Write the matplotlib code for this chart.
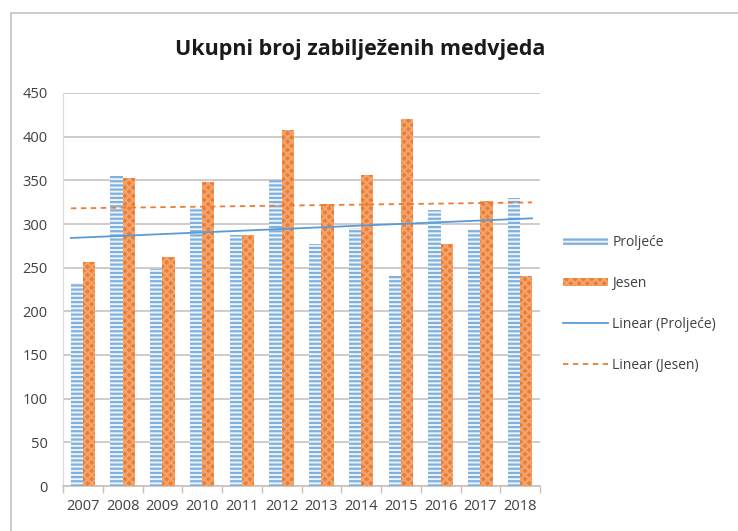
import numpy as np
import matplotlib
matplotlib.use("Agg")
import matplotlib.pyplot as plt
from matplotlib.patches import Patch, Rectangle
from matplotlib.lines import Line2D

plt.rcParams['font.family'] = ['Open Sans', 'DejaVu Sans']
plt.rcParams['hatch.linewidth'] = 1.6

years = ['2007', '2008', '2009', '2010', '2011', '2012', '2013', '2014', '2015', '2016', '2017', '2018']
proljece = [233, 355, 248, 318, 287, 350, 277, 295, 240, 316, 294, 330]
jesen = [256, 353, 262, 348, 287, 408, 323, 356, 420, 277, 326, 240]
yticks = [0, 50, 100, 150, 200, 250, 300, 350, 400, 450]
title = 'Ukupni broj zabilježenih medvjeda'
labels = ['Proljeće', 'Jesen', 'Linear (Proljeće)', 'Linear (Jesen)']

blue = '#5b9bd5'
blue_h = '#7fb0de'
orange = '#ed7d31'
orange_h = '#f3a46e'

fig = plt.figure(figsize=(7.38, 5.31), dpi=100)
fig.patches.append(Rectangle((11/738, -0.01), 1.02, 1 - 13/531 + 0.01, transform=fig.transFigure,
                             fill=False, edgecolor='#c9c0bb', linewidth=1.2, zorder=0))
ax = fig.add_axes([63/738, 1 - 486/531, (540 - 63)/738, (486 - 93)/531])

x = np.arange(len(years))
w = 0.31
ax.bar(x - w/2, proljece, w, color='#eef4fb', edgecolor=blue_h, hatch='----', linewidth=0, zorder=3)
ax.bar(x + w/2, jesen, w, color=orange, edgecolor=orange_h, hatch='xxxx', linewidth=0, zorder=3)

# linear trend lines (Excel-style) computed from the series
xs = np.arange(1, len(years) + 1)
p1 = np.polyfit(xs, proljece, 1)
p2 = np.polyfit(xs, jesen, 1)
xl = np.array([x[0] - 0.3, x[-1] + 0.3])
ax.plot(xl, np.polyval(p1, xl + 1), color=blue, lw=1.3, zorder=4)
ax.plot(xl, np.polyval(p2, xl + 1), color=orange, lw=1.3, ls=(0, (3, 2.5)), zorder=4)

ax.set_xlim(-0.5, len(years) - 0.5)
ax.set_ylim(0, 450)
ax.set_yticks(yticks)
ax.set_xticks(x)
ax.set_xticklabels(years)
ax.tick_params(axis='y', length=0, labelsize=10.5, colors='#404040', pad=11)
ax.tick_params(axis='x', length=0, labelsize=10.5, colors='#404040', pad=9)
ax.set_xticks(np.arange(-0.5, len(years)), minor=True)
ax.tick_params(axis='x', which='minor', length=5, color='#c9c0bb', width=1)
ax.grid(axis='y', color='#cbc1bd', linewidth=1.2, zorder=0)
for s in ['top', 'right']:
    ax.spines[s].set_visible(False)
ax.spines['left'].set_color('#d9d9d9')
ax.spines['bottom'].set_color('#c9c0bb')
ax.spines['bottom'].set_linewidth(1.2)

fig.text(360/738, 1 - 49/531, title, ha='center', va='center', fontsize=15.5, fontweight='bold', color='#1a1a1a')

handles = [
    Patch(facecolor='#eef4fb', edgecolor=blue_h, hatch='----', linewidth=0),
    Patch(facecolor=orange, edgecolor=orange_h, hatch='xxxx', linewidth=0),
    Line2D([0], [0], color=blue, lw=1.3),
    Line2D([0], [0], color=orange, lw=1.3, ls=(0, (3, 2.5))),
]
leg = fig.legend(handles, labels, loc='center left', bbox_to_anchor=(550/738, 1 - 304/531),
                 frameon=False, fontsize=10, labelspacing=1.85, handlelength=3.3,
                 handleheight=0.5, handletextpad=0.3)
for t in leg.get_texts():
    t.set_color('#404040')

fig.savefig('out.png', dpi=100, facecolor='white')
